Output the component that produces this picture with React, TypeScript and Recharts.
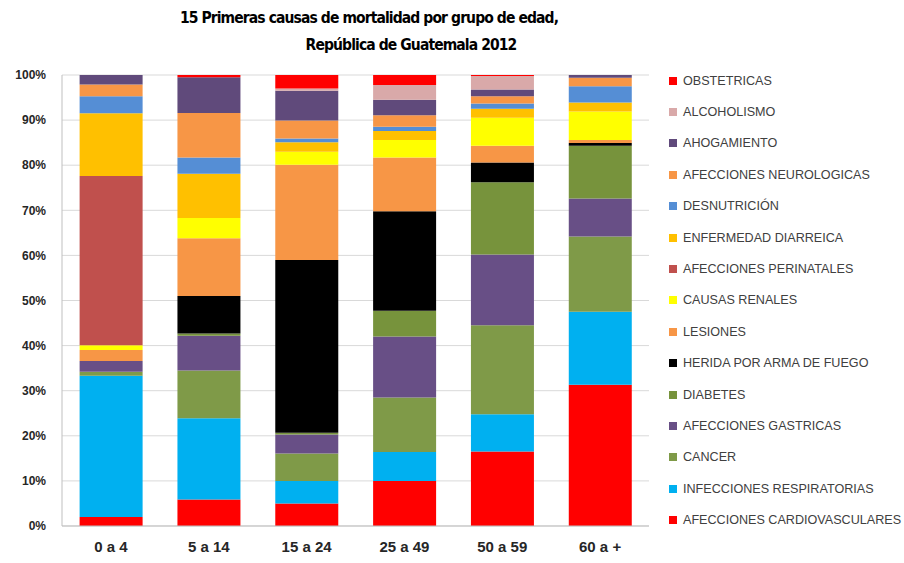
import React from "react";
import {
  BarChart,
  Bar,
  XAxis,
  YAxis,
  CartesianGrid,
} from "recharts";

// Age groups
const GROUPS = ["0 a 4", "5 a 14", "15 a 24", "25 a 49", "50 a 59", "60 a +"];

// Share of each cause per age group (%)
const cardiovasculares = [2.0, 5.9, 5.0, 10.0, 16.5, 31.3];
const respiratorias = [31.3, 18.0, 5.0, 6.4, 8.3, 16.2];
const cancer = [0.9, 10.6, 6.1, 12.1, 19.7, 16.7];
const gastricas = [2.4, 7.7, 4.2, 13.5, 15.7, 8.4];
const diabetes = [0, 0.5, 0.4, 5.7, 16.0, 11.7];
const herida = [0, 8.3, 38.3, 22.1, 4.4, 0.6];
const lesiones = [2.4, 12.8, 21.1, 11.9, 3.7, 0.7];
const renales = [1.1, 4.5, 2.9, 3.9, 6.2, 6.3];
const perinatales = [37.5, 0, 0, 0, 0, 0];
const diarreica = [13.9, 9.8, 2.1, 2.0, 2.0, 2.0];
const desnutricion = [3.8, 3.6, 0.8, 0.9, 1.2, 3.6];
const neurologicas = [2.6, 9.9, 4.0, 2.6, 1.6, 1.9];
const ahogamiento = [2.1, 7.9, 6.6, 3.4, 1.5, 0.6];
const alcoholismo = [0, 0, 0.5, 3.3, 3.0, 0];
const obstetricas = [0, 0.5, 3.0, 2.2, 0.2, 0];

const Y_TICKS = [0, 0.1, 0.2, 0.3, 0.4, 0.5, 0.6, 0.7, 0.8, 0.9, 1];

// bottom to top stacking order
const SERIES = [
  { key: "cardio", name: "AFECCIONES CARDIOVASCULARES", color: "#FF0000", values: cardiovasculares },
  { key: "resp", name: "INFECCIONES RESPIRATORIAS", color: "#00B0F0", values: respiratorias },
  { key: "cancer", name: "CANCER", color: "#7F9A48", values: cancer },
  { key: "gastricas", name: "AFECCIONES GASTRICAS", color: "#684F86", values: gastricas },
  { key: "diabetes", name: "DIABETES", color: "#77933C", values: diabetes },
  { key: "herida", name: "HERIDA POR ARMA DE FUEGO", color: "#000000", values: herida },
  { key: "lesiones", name: "LESIONES", color: "#F79646", values: lesiones },
  { key: "renales", name: "CAUSAS RENALES", color: "#FFFF00", values: renales },
  { key: "perinatales", name: "AFECCIONES PERINATALES", color: "#C0504D", values: perinatales },
  { key: "diarreica", name: "ENFERMEDAD DIARREICA", color: "#FFC000", values: diarreica },
  { key: "desnutricion", name: "DESNUTRICIÓN", color: "#558ED5", values: desnutricion },
  { key: "neuro", name: "AFECCIONES NEUROLOGICAS", color: "#F79646", values: neurologicas },
  { key: "ahogamiento", name: "AHOGAMIENTO", color: "#604A7B", values: ahogamiento },
  { key: "alcohol", name: "ALCOHOLISMO", color: "#D9A9A9", values: alcoholismo },
  { key: "obstetricas", name: "OBSTETRICAS", color: "#FF0000", values: obstetricas },
];

const data = GROUPS.map((g, i) => {
  const row: Record<string, string | number> = { group: g };
  SERIES.forEach((s) => {
    row[s.key] = s.values[i];
  });
  return row;
});

const FONT = "'Liberation Sans', Arial, sans-serif";
const TITLE_FONT = "'Liberation Sans Narrow', 'DejaVu Sans Condensed', sans-serif";

const titleStyle: React.CSSProperties = {
  position: "absolute",
  left: 0,
  textAlign: "center",
  fontSize: 15.5,
  letterSpacing: -0.9,
  fontWeight: "bold",
  fontFamily: TITLE_FONT,
  color: "#000",
  lineHeight: "26px",
};

export default function App() {
  return (
    <div
      style={{
        position: "absolute",
        left: 0,
        top: 0,
        width: 904,
        height: 563,
        background: "#fff",
        fontFamily: FONT,
      }}
    >
      <div style={{ ...titleStyle, top: 5, width: 738 }}>
        15 Primeras causas de mortalidad por grupo de edad,
      </div>
      <div style={{ ...titleStyle, top: 32, width: 822 }}>
        República de Guatemala 2012
      </div>

      <BarChart
        width={904}
        height={563}
        data={data}
        stackOffset="expand"
        barCategoryGap="18%"
        margin={{ top: 75, right: 255, bottom: 0, left: 0 }}
      >
        <CartesianGrid vertical={false} stroke="#D9D9D9" />
        <XAxis
          dataKey="group"
          height={37}
          tickLine={false}
          axisLine={{ stroke: "#BFBFBF" }}
          tick={{ fill: "#262626", fontSize: 15, fontWeight: "bold", fontFamily: FONT }}
          tickMargin={9}
        />
        <YAxis
          width={62}
          domain={[0, 1]}
          ticks={Y_TICKS}
          tickFormatter={(v: number) => `${Math.round(v * 100)}%`}
          tickLine={false}
          axisLine={{ stroke: "#BFBFBF" }}
          tick={{ fill: "#262626", fontSize: 12, fontWeight: "bold", fontFamily: FONT }}
          tickMargin={10}
        />
        {SERIES.map((s) => (
          <Bar
            key={s.key}
            dataKey={s.key}
            name={s.name}
            stackId="a"
            fill={s.color}
            isAnimationActive={false}
          />
        ))}
      </BarChart>

      {/* legend, top item is the last series */}
      <div style={{ position: "absolute", left: 669, top: 65 }}>
        {[...SERIES].reverse().map((s) => (
          <div
            key={s.key}
            style={{
              display: "flex",
              alignItems: "center",
              height: 31.4,
              fontSize: 12.6,
              color: "#404040",
            }}
          >
            <span
              style={{
                display: "inline-block",
                width: 8,
                height: 8,
                background: s.color,
                marginRight: 6,
              }}
            />
            {s.name}
          </div>
        ))}
      </div>
    </div>
  );
}
